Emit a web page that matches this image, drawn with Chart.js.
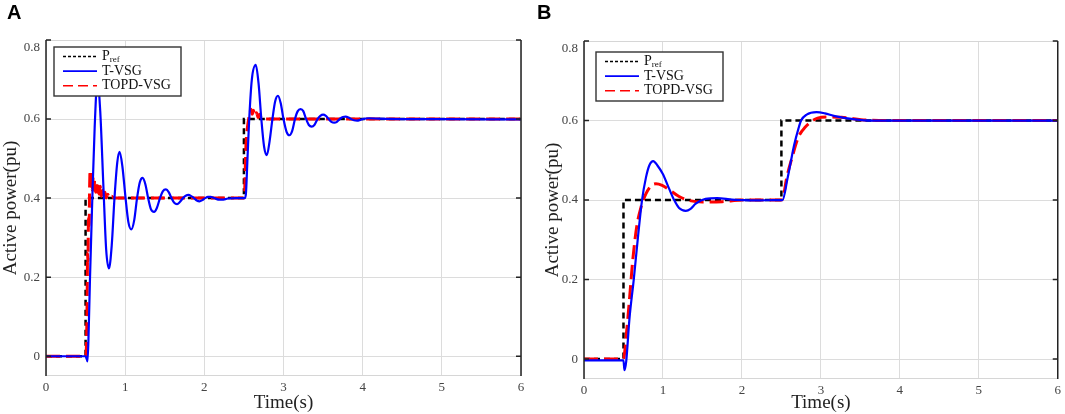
<!DOCTYPE html>
<html>
<head>
<meta charset="utf-8">
<script src="https://cdn.jsdelivr.net/npm/chart.js@4.4.0/dist/chart.umd.min.js"></script>
<style>
    body { margin: 0; background: #fff; }
    #wrap { position: relative; width: 1065px; height: 414px; }
    canvas { position: absolute; top: 0; }
    .tag { position: absolute; top: 2px; font: bold 20px "Liberation Sans", Arial, sans-serif; color: #000; line-height: 20px; }
</style>
</head>
<body>
<div id="wrap">
    <canvas id="chartA" width="532" height="414" style="left:0px"></canvas>
    <canvas id="chartB" width="533" height="414" style="left:532px"></canvas>
    <div class="tag" style="left:7px">A</div>
    <div class="tag" style="left:537px">B</div>
</div>
<script>
// axis ticks
const xTicks = [0, 1, 2, 3, 4, 5, 6];
const yTicks = [0, 0.2, 0.4, 0.6, 0.8];
const legendLabels = ['P_ref', 'T-VSG', 'TOPD-VSG'];

// reference step (same in both panels)
const prefTime = [0, 0.5, 0.5, 2.5, 2.5, 6];
const prefPower = [0, 0, 0.4, 0.4, 0.6, 0.6];

// panel A - T-VSG
const tvsgTimeA = [0, 0.50, 0.525, 0.54, 0.556, 0.585, 0.615, 0.65, 0.685, 0.725, 0.76, 0.795, 0.83, 0.865, 0.90, 0.93,
    0.965, 1.005, 1.04, 1.078, 1.115, 1.15, 1.185, 1.22, 1.255, 1.29, 1.325, 1.365, 1.40, 1.44, 1.475, 1.515,
    1.55, 1.585, 1.62, 1.655, 1.69, 1.73, 1.765, 1.80, 1.835, 1.87, 1.905, 1.94, 1.975, 2.01, 2.045, 2.08,
    2.115, 2.15, 2.185, 2.22, 2.30, 2.40, 2.51, 2.525, 2.545, 2.567, 2.60, 2.65, 2.685, 2.72, 2.755, 2.79,
    2.825, 2.86, 2.895, 2.93, 2.965, 3.0, 3.04, 3.075, 3.11, 3.145, 3.18, 3.215, 3.25, 3.285, 3.32, 3.355,
    3.39, 3.43, 3.465, 3.50, 3.535, 3.57, 3.605, 3.64, 3.675, 3.71, 3.75, 3.785, 3.82, 3.855, 3.89, 3.93,
    3.97, 4.0, 4.07, 4.2, 4.5, 5.0, 6.0];
const tvsgPowerA = [0, 0, -0.013, 0.07, 0.20, 0.40, 0.58, 0.70, 0.62, 0.43, 0.27, 0.222, 0.28, 0.40, 0.49, 0.517,
    0.48, 0.40, 0.34, 0.321, 0.345, 0.40, 0.44, 0.451, 0.435, 0.40, 0.372, 0.365, 0.375, 0.40, 0.417, 0.422,
    0.415, 0.40, 0.388, 0.385, 0.39, 0.40, 0.406, 0.408, 0.405, 0.40, 0.394, 0.392, 0.395, 0.40, 0.403, 0.403,
    0.401, 0.398, 0.396, 0.396, 0.399, 0.40, 0.40, 0.41, 0.50, 0.60, 0.70, 0.737, 0.69, 0.60, 0.53, 0.509,
    0.545, 0.60, 0.645, 0.659, 0.64, 0.60, 0.567, 0.559, 0.57, 0.60, 0.62, 0.625, 0.62, 0.60, 0.585, 0.581,
    0.585, 0.60, 0.608, 0.611, 0.608, 0.60, 0.593, 0.591, 0.593, 0.60, 0.605, 0.606, 0.604, 0.60, 0.597, 0.596,
    0.598, 0.60, 0.602, 0.601, 0.600, 0.600, 0.599];

// panel A - TOPD-VSG
const topdTimeA = [0, 0.50, 0.51, 0.52, 0.525, 0.53, 0.535, 0.54, 0.545, 0.55, 0.557, 0.565, 0.575, 0.585, 0.595,
    0.605, 0.615, 0.625, 0.635, 0.645, 0.655, 0.67, 0.685, 0.70, 0.715, 0.73, 0.745, 0.76, 0.78, 0.80, 0.83,
    0.86, 2.50, 2.51, 2.52, 2.53, 2.545, 2.56, 2.575, 2.59, 2.605, 2.62, 2.64, 2.66, 2.68, 2.70, 2.72, 2.74,
    2.77, 6.0];
const topdPowerA = [0, 0, 0.02, 0.15, 0.26, 0.24, 0.33, 0.35, 0.33, 0.42, 0.47, 0.43, 0.46, 0.42, 0.45,
    0.42, 0.445, 0.415, 0.44, 0.415, 0.435, 0.41, 0.43, 0.405, 0.42, 0.40, 0.415, 0.40, 0.41, 0.40, 0.405,
    0.40, 0.40, 0.42, 0.50, 0.55, 0.58, 0.60, 0.615, 0.625, 0.612, 0.622, 0.608, 0.616, 0.604, 0.612, 0.603, 0.606,
    0.60, 0.60];

// panel B - T-VSG
const tvsgTimeB = [0, 0.50, 0.512, 0.535, 0.575, 0.63, 0.685, 0.735, 0.785, 0.827, 0.877, 0.93, 0.997, 1.079,
    1.142, 1.204, 1.289, 1.35, 1.415, 1.54, 1.687, 1.876, 2.0, 2.2, 2.4, 2.514, 2.576, 2.618, 2.66, 2.715,
    2.749, 2.82, 2.945, 3.05, 3.177, 3.43, 3.64, 4.5, 6.0];
const tvsgPowerB = [-0.003, -0.003, -0.028, -0.005, 0.10, 0.20, 0.31, 0.40, 0.457, 0.487, 0.498, 0.487, 0.466, 0.428,
    0.40, 0.38, 0.373, 0.378, 0.391, 0.403, 0.405, 0.401, 0.400, 0.399, 0.400, 0.400, 0.453, 0.495, 0.537, 0.579,
    0.60, 0.615, 0.621, 0.618, 0.611, 0.603, 0.600, 0.600, 0.600];

// panel B - TOPD-VSG
const topdTimeB = [0, 0.50, 0.533, 0.575, 0.617, 0.667, 0.722, 0.785, 0.85, 0.911, 0.99, 1.079, 1.204, 1.33,
    1.5, 1.75, 2.0, 2.5, 2.52, 2.568, 2.631, 2.715, 2.8, 2.958, 3.1, 3.26, 3.6, 4.0, 6.0];
const topdPowerB = [0, 0, 0.055, 0.148, 0.248, 0.332, 0.382, 0.416, 0.436, 0.441, 0.437, 0.426, 0.409, 0.399,
    0.395, 0.396, 0.400, 0.400, 0.405, 0.457, 0.504, 0.558, 0.583, 0.606, 0.609, 0.608, 0.601, 0.600, 0.600];

const serif = '"Liberation Serif", "Times New Roman", serif';

function pts(t, p) {
    return t.map(function (x, i) { return { x: x, y: p[i] }; });
}

// box, inward ticks on the y sides, and the legend
const frame = {
    id: 'frame',
    afterDatasetsDraw(chart, args, options) {
        const { ctx, chartArea: { left, right, top, bottom }, scales: { y } } = chart;
        ctx.save();
        ctx.strokeStyle = '#d6d6d6';
        ctx.lineWidth = 1;
        ctx.beginPath();
        ctx.moveTo(left, top + 0.5); ctx.lineTo(right, top + 0.5);
        ctx.moveTo(left, bottom - 0.5); ctx.lineTo(right, bottom - 0.5);
        ctx.stroke();

        ctx.strokeStyle = '#222';
        ctx.lineWidth = 1.5;
        ctx.beginPath();
        ctx.moveTo(left, top); ctx.lineTo(left, bottom);
        ctx.moveTo(right, top); ctx.lineTo(right, bottom);
        yTicks.forEach(function (v) {
            const py = y.getPixelForValue(v);
            ctx.moveTo(left, py); ctx.lineTo(left + 5, py);
            ctx.moveTo(right, py); ctx.lineTo(right - 5, py);
        });
        ctx.stroke();

        // legend
        const bx = left + options.dx, by = top + options.dy, bw = 127, bh = 49;
        ctx.fillStyle = '#fff';
        ctx.fillRect(bx, by, bw, bh);
        ctx.strokeStyle = '#333';
        ctx.lineWidth = 1.4;
        ctx.strokeRect(bx, by, bw, bh);
        const dashes = [[3, 2], [], [10, 5]];
        chart.data.datasets.forEach(function (ds, i) {
            const yy = by + 9.5 + i * 14.6;
            ctx.strokeStyle = ds.borderColor;
            ctx.lineWidth = 1.6;
            ctx.setLineDash(dashes[i]);
            ctx.beginPath();
            ctx.moveTo(bx + 9, yy); ctx.lineTo(bx + 43, yy);
            ctx.stroke();
            ctx.setLineDash([]);
            const parts = legendLabels[i].split('_');
            ctx.fillStyle = '#111';
            ctx.textBaseline = 'middle';
            ctx.font = '14px ' + serif;
            ctx.fillText(parts[0], bx + 48, yy);
            if (parts[1]) {
                const w = ctx.measureText(parts[0]).width;
                ctx.font = '9px ' + serif;
                ctx.fillText(parts[1], bx + 48 + w, yy + 3);
            }
        });
        ctx.restore();
    }
};

function panel(id, tv, pv, tr, pr, pad, yWidth, xHeight, legendPos) {
    return new Chart(document.getElementById(id), {
        type: 'line',
        data: {
            datasets: [{
                label: legendLabels[0],
                data: pts(prefTime, prefPower),
                borderColor: '#000',
                borderWidth: 2.5,
                borderDash: [6, 4],
                tension: 0,
                order: 3
            },
            {
                label: legendLabels[1],
                data: pts(tv, pv),
                borderColor: '#0000ff',
                borderWidth: 2.2,
                cubicInterpolationMode: 'monotone',
                order: 1
            },
            {
                label: legendLabels[2],
                data: pts(tr, pr),
                borderColor: '#ff0000',
                borderWidth: 3,
                borderDash: [14, 6],
                cubicInterpolationMode: 'monotone',
                order: 2
            }]
        },
        options: {
            responsive: false,
            animation: false,
            parsing: false,
            elements: { point: { radius: 0 } },
            layout: { padding: pad },
            scales: {
                x: {
                    type: 'linear',
                    min: 0,
                    max: 6,
                    afterBuildTicks: function (s) { s.ticks = xTicks.map(function (v) { return { value: v }; }); },
                    afterFit: function (s) { s.height = xHeight; },
                    grid: { color: '#dcdcdc', drawTicks: false },
                    border: { display: false },
                    ticks: {
                        padding: 4,
                        maxRotation: 0,
                        color: '#444',
                        font: { family: serif, size: 13 },
                        callback: function (v) { return String(v); }
                    },
                    title: {
                        display: true,
                        text: 'Time(s)',
                        color: '#222',
                        padding: 0,
                        font: { family: serif, size: 19 }
                    }
                },
                y: {
                    type: 'linear',
                    min: -0.05,
                    max: 0.8,
                    afterBuildTicks: function (s) { s.ticks = yTicks.map(function (v) { return { value: v }; }); },
                    afterFit: function (s) { s.width = yWidth; },
                    grid: { color: '#dcdcdc', drawTicks: false },
                    border: { display: false },
                    ticks: {
                        padding: 6,
                        color: '#444',
                        font: { family: serif, size: 13 },
                        // top label sits a little below its tick, as in the original
                        callback: function (v) { return v === yTicks[yTicks.length - 1] ? ['', String(v)] : String(v); }
                    },
                    title: {
                        display: true,
                        text: 'Active power(pu)',
                        color: '#222',
                        padding: 0,
                        font: { family: serif, size: 19 }
                    }
                }
            },
            plugins: {
                legend: { display: false },
                tooltip: { enabled: false },
                frame: legendPos
            }
        },
        plugins: [frame]
    });
}

panel('chartA', tvsgTimeA, tvsgPowerA, topdTimeA, topdPowerA,
    { top: 40, right: 11, left: 0, bottom: 0 }, 46, 38, { dx: 8, dy: 7 });
panel('chartB', tvsgTimeB, tvsgPowerB, topdTimeB, topdPowerB,
    { top: 41, right: 4, left: 10, bottom: 0 }, 42, 35, { dx: 12, dy: 11 });
</script>
</body>
</html>
